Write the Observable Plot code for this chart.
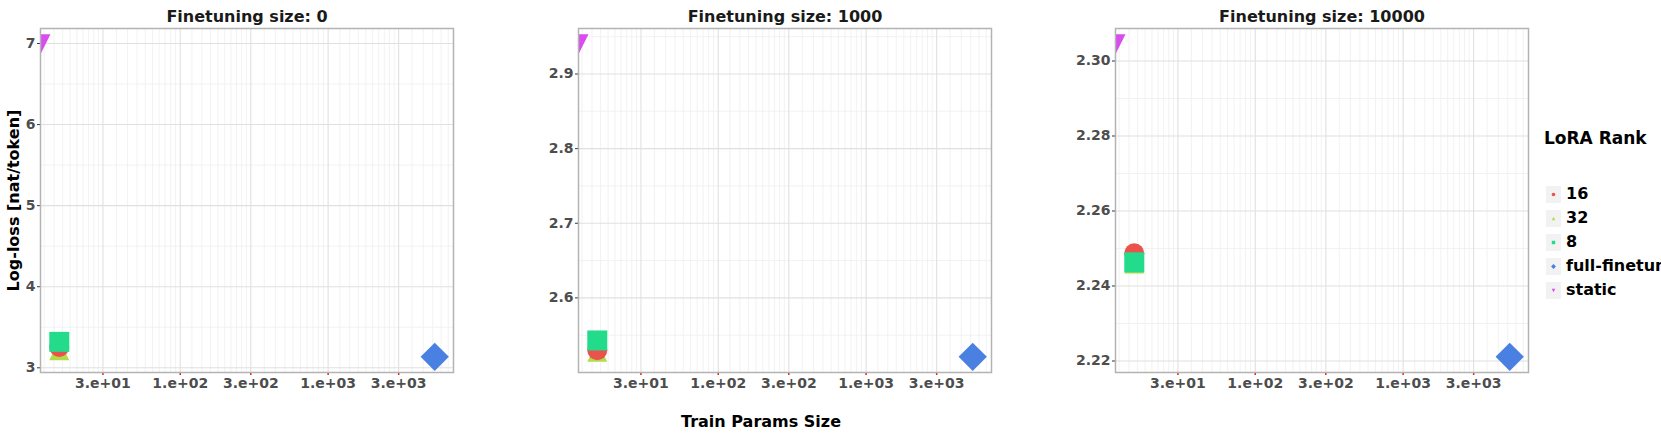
<!DOCTYPE html>
<html>
<head>
<meta charset="utf-8">
<script src="https://cdn.jsdelivr.net/npm/d3@7"></script>
<script src="https://cdn.jsdelivr.net/npm/@observablehq/plot@0.6"></script>
<style>
  html, body { margin: 0; padding: 0; background: #fff; }
  body { width: 1661px; height: 437px; overflow: hidden; font-family: "DejaVu Sans", sans-serif; }
  #root { position: relative; width: 1661px; height: 437px; overflow: hidden; }
  .panel { position: absolute; top: 0; }
  .panel svg { overflow: visible; }
  .legend-title { position: absolute; font-family: "DejaVu Sans", sans-serif; font-weight: bold; font-size: 17px; color: #000; line-height: 20px; white-space: nowrap; }
  .legend-key { position: absolute; width: 15px; height: 17px; background: #f2f2f2; }
  .legend-label { position: absolute; font-family: "DejaVu Sans", sans-serif; font-weight: bold; font-size: 16px; color: #000; line-height: 20px; white-space: nowrap; }
</style>
</head>
<body>
<div id="root"></div>
<script>
// ---------------- data ----------------
const panelTitles = ["Finetuning size: 0", "Finetuning size: 1000", "Finetuning size: 10000"];
const seriesNames = ["16", "32", "8", "full-finetune", "static"];
const seriesColors = ["#E9534C", "#B2DD4A", "#22DC8C", "#4B80E3", "#D94DEE"];
// train params size per series (static has 0 -> -inf on the log axis, drawn at the left edge)
const trainParams = [15.2, 15.2, 15.2, 5260, 0];
// log-loss per series, one array per finetuning size
const lossFt0 = [3.258, 3.218, 3.320, 3.135, 6.992];
const lossFt1000 = [2.530, 2.528, 2.543, 2.521, 2.940];
const lossFt10000 = [2.2487, 2.2460, 2.2463, 2.2211, 2.3045];

const xTickValues = [30, 100, 300, 1000, 3000];
const xTickLabels = ["3.e+01", "1.e+02", "3.e+02", "1.e+03", "3.e+03"];
const yTicks0 = [3, 4, 5, 6, 7];
const yTickLabels0 = ["3", "4", "5", "6", "7"];
const yTicks1000 = [2.6, 2.7, 2.8, 2.9];
const yTickLabels1000 = ["2.6", "2.7", "2.8", "2.9"];
const yTicks10000 = [2.22, 2.24, 2.26, 2.28, 2.30];
const yTickLabels10000 = ["2.22", "2.24", "2.26", "2.28", "2.30"];

// ---------------- helpers ----------------
const lossByPanel = [lossFt0, lossFt1000, lossFt10000];
const yTicksByPanel = [yTicks0, yTicks1000, yTicks10000];
const yLabelsByPanel = [yTickLabels0, yTickLabels1000, yTickLabels10000];

// markers sized like matplotlib markersize m (bbox-centered)
const sqSym = {draw(ctx, size) { const h = Math.sqrt(size) / 2; ctx.moveTo(-h, -h); ctx.lineTo(h, -h); ctx.lineTo(h, h); ctx.lineTo(-h, h); ctx.closePath(); }};
const diaSym = {draw(ctx, size) { const h = Math.sqrt(size) / Math.SQRT2; ctx.moveTo(0, -h); ctx.lineTo(h, 0); ctx.lineTo(0, h); ctx.lineTo(-h, 0); ctx.closePath(); }};
const triUp = {draw(ctx, size) { const h = Math.sqrt(size) / 2; ctx.moveTo(0, -h); ctx.lineTo(h, h); ctx.lineTo(-h, h); ctx.closePath(); }};
const triDown = {draw(ctx, size) { const h = Math.sqrt(size) / 2; ctx.moveTo(0, h); ctx.lineTo(-h, -h); ctx.lineTo(h, -h); ctx.closePath(); }};
const markerPx = 20;
const symR = markerPx / Math.sqrt(Math.PI);
const seriesSymbols = ["circle", triUp, sqSym, diaSym, triDown];
const seriesR = [markerPx / 2, symR, symR, symR, symR];
const drawOrder = [1, 0, 2, 3, 4];

function expandLog(vals) {
  const [a, b] = d3.extent(vals.filter(v => v > 0)).map(Math.log10);
  const pad = (b - a) * 0.05;
  return [Math.pow(10, a - pad), Math.pow(10, b + pad)];
}
function expandLin(vals) {
  const [a, b] = d3.extent(vals);
  const pad = (b - a) * 0.05;
  return [a - pad, b + pad];
}
const xDomain = expandLog(trainParams);

// minor x grid: 9 evenly spaced lines (data space) between successive majors
const xMajorsAll = [10, 30, 100, 300, 1000, 3000, 10000];
const xMinor = [];
for (let k = 0; k < xMajorsAll.length - 1; k++) {
  const a = xMajorsAll[k], b = xMajorsAll[k + 1];
  for (let j = 1; j < 10; j++) {
    const v = a + (b - a) * j / 10;
    if (v > xDomain[0] && v < xDomain[1]) xMinor.push(v);
  }
}

// panel layout
const panelLayout = [
  {left: 0,    width: 470, marginLeft: 40, marginRight: 17},
  {left: 510,  width: 500, marginLeft: 68, marginRight: 19},
  {left: 1050, width: 490, marginLeft: 65, marginRight: 12}
];

const root = document.getElementById("root");

panelLayout.forEach((lay, p) => {
  const loss = lossByPanel[p];
  const rows = seriesNames.map((s, i) => ({series: s, idx: i, params: trainParams[i], loss: loss[i]}));
  const yDomain = expandLin(loss);
  const yTicks = yTicksByPanel[p];
  const yLabels = yLabelsByPanel[p];
  const step = yTicks[1] - yTicks[0];
  const yMinor = [];
  for (let t = yTicks[0] - step / 2; t <= yDomain[1]; t += step) {
    if (t > yDomain[0] && t < yDomain[1]) yMinor.push(+t.toFixed(6));
  }

  const marks = [
    Plot.ruleX(xMinor, {stroke: "#efefef", strokeWidth: 0.8}),
    Plot.ruleY(yMinor, {stroke: "#efefef", strokeWidth: 0.8}),
    Plot.ruleX(xTickValues, {stroke: "#e0e0e0", strokeWidth: 1.1}),
    Plot.ruleY(yTicks, {stroke: "#e0e0e0", strokeWidth: 1.1}),
    Plot.axisX({ticks: xTickValues, tickFormat: d => xTickLabels[xTickValues.indexOf(d)], tickSize: 3, tickPadding: 3,
      stroke: "#e41a1c", strokeWidth: 1.5, fill: "#4d4d4d", fontSize: 14, fontWeight: "bold", label: null}),
    Plot.axisY({ticks: yTicks, tickFormat: d => yLabels[yTicks.indexOf(d)], tickSize: 3, tickPadding: 2,
      stroke: "#333", fill: "#4d4d4d", fontSize: 14, fontWeight: "bold", label: null}),
    Plot.text([panelTitles[p]], {text: d => d, frameAnchor: "top", dy: -12, lineAnchor: "middle",
      fontSize: 16, fontWeight: "bold", fill: "#1a1a1a"})
  ];
  drawOrder.forEach(i => {
    marks.push(Plot.dot(rows.filter(d => d.idx === i), {
      x: d => d.params > 0 ? d.params : xDomain[0],
      y: "loss",
      symbol: seriesSymbols[i],
      r: seriesR[i],
      fill: seriesColors[i],
      clip: true
    }));
  });
  marks.push(Plot.frame({stroke: "#b3b3b3", strokeWidth: 1.5}));
  if (p === 0) {
    marks.push(Plot.text(["Log-loss [nat/token]"], {text: d => d, frameAnchor: "left", dx: -27, rotate: -90,
      textAnchor: "middle", lineAnchor: "middle", fontSize: 16, fontWeight: "bold", fill: "#000"}));
  }
  if (p === 1) {
    marks.push(Plot.text(["Train Params Size"], {text: d => d, frameAnchor: "bottom", dy: 49, dx: -24,
      textAnchor: "middle", lineAnchor: "middle", fontSize: 16, fontWeight: "bold", fill: "#000"}));
  }

  const chart = Plot.plot({
    width: lay.width,
    height: 437,
    marginLeft: lay.marginLeft,
    marginRight: lay.marginRight,
    marginTop: 28,
    marginBottom: 65,
    style: {fontFamily: "DejaVu Sans, sans-serif", background: "transparent", overflow: "visible"},
    x: {type: "log", domain: xDomain},
    y: {domain: yDomain},
    marks
  });
  const wrap = document.createElement("div");
  wrap.className = "panel";
  wrap.style.left = lay.left + "px";
  wrap.appendChild(chart);
  root.appendChild(wrap);
});

// ---------------- legend ----------------
const legendTitle = document.createElement("div");
legendTitle.className = "legend-title";
legendTitle.textContent = "LoRA Rank";
legendTitle.style.left = "1544px";
legendTitle.style.top = (138 - 10) + "px";
root.appendChild(legendTitle);

const rowCenters0 = 194, rowStep = 24;
seriesNames.forEach((s, i) => {
  const cy = rowCenters0 + i * rowStep;
  const key = document.createElement("div");
  key.className = "legend-key";
  key.style.left = "1546px";
  key.style.top = (cy - 8.5) + "px";
  const svg = d3.create("svg").attr("width", 15).attr("height", 17);
  const path = d3.path();
  const sym = seriesSymbols[i];
  if (sym === "circle") { path.arc(0, 0, 1.8, 0, 2 * Math.PI); }
  else { sym.draw(path, 12); }
  svg.append("path").attr("d", path.toString()).attr("transform", "translate(7.5,8.5)").attr("fill", seriesColors[i]);
  key.appendChild(svg.node());
  root.appendChild(key);

  const lab = document.createElement("div");
  lab.className = "legend-label";
  lab.textContent = s;
  lab.style.left = "1566px";
  lab.style.top = (cy - 10) + "px";
  root.appendChild(lab);
});
</script>
</body>
</html>
